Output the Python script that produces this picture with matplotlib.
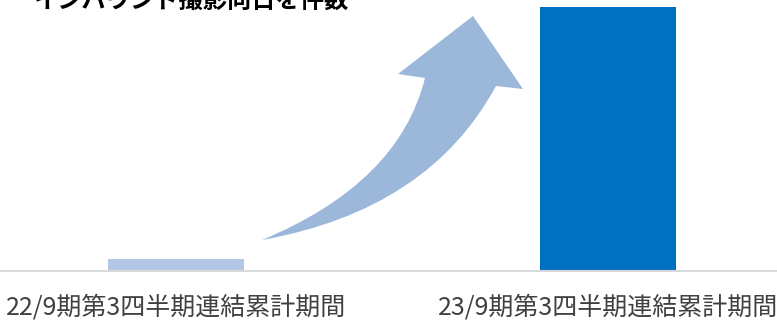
import matplotlib
matplotlib.use("Agg")
import matplotlib.pyplot as plt
from matplotlib.path import Path
from matplotlib.patches import PathPatch

plt.rcParams['font.family'] = ['Noto Sans CJK JP', 'DejaVu Sans']

# Data
categories = ["22/9期第3四半期連結累計期間", "23/9期第3四半期連結累計期間"]
values = [10, 220]
bar_colors = ["#B4C7E7", "#0070C0"]
title = "インバウンド撮影向日を件数"

W, H = 777, 323
fig = plt.figure(figsize=(W / 100, H / 100), dpi=100)
ax = fig.add_axes([0, 52 / H, 1, 1 - 52 / H])

x = list(range(len(categories)))
ax.bar(x, values, width=136 / 432, color=bar_colors, zorder=2)

ax.set_xlim(-176 / 432, (W - 176) / 432)
ax.set_ylim(0, max(values) * 271 / 264)
ax.set_xticks(x)
ax.set_xticklabels(categories, fontsize=18, color="#404040")
ax.tick_params(axis="x", length=0, pad=17)
ax.set_yticks([])
for s in ["top", "right", "left"]:
    ax.spines[s].set_visible(False)
ax.spines["bottom"].set_color("#D9D9D9")
ax.spines["bottom"].set_linewidth(1.5)

# Decorative curved arrow (figure pixel coords -> figure fraction)
def P(px, py):
    return (px / W, (H - py) / H)

verts = [P(262, 240), P(429, 210), P(496, 86),
         P(523, 89), P(473, 16), P(398, 74), P(425, 78),
         P(399, 183), P(262, 240), P(262, 240)]
codes = [Path.MOVETO, Path.CURVE3, Path.CURVE3,
         Path.LINETO, Path.LINETO, Path.LINETO, Path.LINETO,
         Path.CURVE3, Path.CURVE3, Path.CLOSEPOLY]
arrow = PathPatch(Path(verts, codes), facecolor="#9BB7DA", edgecolor="none",
                  transform=fig.transFigure, zorder=3)
fig.patches.append(arrow)

fig.text(33 / W, (H - 13) / H, title, fontsize=17.5, fontweight="bold",
         color="#000000", ha="left", va="bottom")

fig.savefig("out.png", dpi=100)
